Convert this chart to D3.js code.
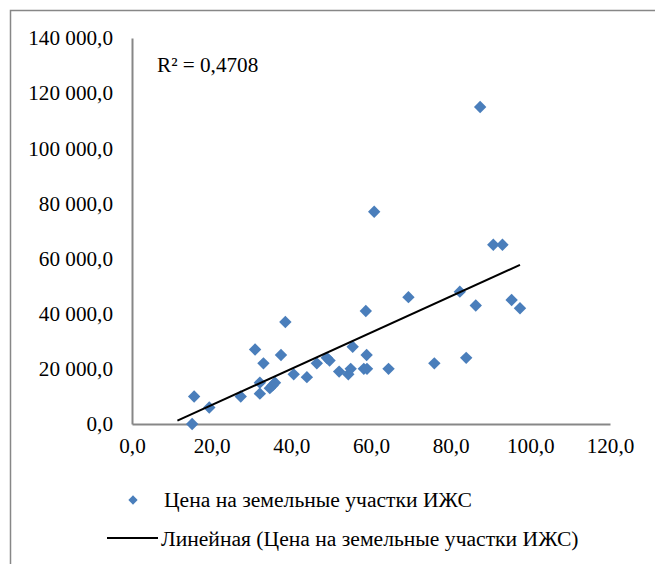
<!DOCTYPE html>
<html>
<head>
<meta charset="utf-8">
<script src="https://cdn.jsdelivr.net/npm/d3@7"></script>
<style>
  body { margin: 0; background: #fff; }
  svg { display: block; }
  svg text { font-family: "Liberation Serif", "Times New Roman", "DejaVu Serif", serif; }
</style>
</head>
<body>
<div id="chart"></div>
<script>
// площадь / цена участков ИЖС
const area = [15.1, 15.6, 19.4, 27.3, 30.9, 32.1, 32.1, 33.0, 34.6, 35.3, 35.9, 37.4, 38.5,
  40.6, 43.9, 46.4, 48.9, 49.6, 52.0, 54.3, 54.9, 55.4, 58.7, 58.9, 58.2, 59.0, 60.8, 64.4,
  69.4, 75.9, 82.3, 83.9, 86.3, 87.4, 90.7, 93.0, 95.3, 97.4];
const price = [0, 10000, 6000, 10000, 27000, 15000, 11000, 22000, 13000, 14000, 15000, 25000, 37000,
  18000, 17000, 22000, 24000, 23000, 19000, 18000, 20000, 28000, 41000, 25000, 20000, 20000, 77000, 20000,
  46000, 22000, 48000, 24000, 43000, 115000, 65000, 65000, 45000, 42000];

const xTicks = [0, 20, 40, 60, 80, 100, 120];
const yTicks = [0, 20000, 40000, 60000, 80000, 100000, 120000, 140000];
const trendStart = 11.4;
const r2Label = "R² = 0,4708";
const seriesName = "Цена на земельные участки ИЖС";
const trendName = "Линейная (Цена на земельные участки ИЖС)";

const w = 655, h = 564;
const fontSize = 21.2;
const legendFontSize = 21.6;
const axisColor = "#878787";
const blue = "#4a7ebb";

const locale = d3.formatLocale({decimal: ",", thousands: " ", grouping: [3], currency: ["", ""]});
const fmt = locale.format(",.1f");

const points = area.map(function(d, i) { return {x: d, y: price[i]}; });

let svg = d3.select("#chart").append("svg")
  .attr("width", w)
  .attr("height", h);

// chart frame (cut off on the right and bottom)
svg.append("rect")
  .attr("x", 10.5)
  .attr("y", 10.5)
  .attr("width", 700)
  .attr("height", 700)
  .attr("fill", "none")
  .attr("stroke", axisColor)
  .attr("stroke-width", 1.5);

let xScale = d3.scaleLinear().domain([0, 120]).range([132, 610]);
let yScale = d3.scaleLinear().domain([0, 140000]).range([424, 38]);

// axes
let xAxis = svg.append("g")
  .attr("transform", "translate(0," + yScale(0) + ")")
  .call(d3.axisBottom(xScale).tickValues(xTicks).tickSize(0).tickPadding(14)
    .tickFormat(function(d) { return fmt(d); }));

let yAxis = svg.append("g")
  .attr("transform", "translate(" + xScale(0) + ",0)")
  .call(d3.axisLeft(yScale).tickValues(yTicks).tickSize(0).tickPadding(19)
    .tickFormat(function(d) { return fmt(d); }));

[xAxis, yAxis].forEach(function(g) {
  g.attr("font-family", null).attr("font-size", null);
  g.select(".domain")
    .attr("stroke", axisColor)
    .attr("stroke-width", 2);
  g.selectAll("text")
    .attr("fill", "#000")
    .style("font-size", fontSize + "px");
});
xAxis.selectAll("text").attr("dy", "0.71em");

// linear trend (least squares)
const mx = d3.mean(area), my = d3.mean(price);
let sxy = 0, sxx = 0;
for (let i = 0; i < area.length; i++) {
  sxy += (area[i] - mx) * (price[i] - my);
  sxx += (area[i] - mx) * (area[i] - mx);
}
const slope = sxy / sxx;
const intercept = my - slope * mx;
const trendX = [trendStart, d3.max(area)];

// Draw points
const diamond = d3.symbol().type(d3.symbolDiamond2).size(98);
svg.append("g")
  .selectAll("path")
  .data(points)
  .enter()
  .append("path")
  .attr("d", diamond)
  .attr("transform", function(d) {
    return "translate(" + xScale(d.x) + "," + yScale(d.y) + ")";
  })
  .attr("fill", blue);

svg.append("line")
  .attr("x1", xScale(trendX[0]))
  .attr("y1", yScale(intercept + slope * trendX[0]))
  .attr("x2", xScale(trendX[1]))
  .attr("y2", yScale(intercept + slope * trendX[1]))
  .attr("stroke", "#000")
  .attr("stroke-width", 2);

// R² label
svg.append("text")
  .text(r2Label)
  .attr("x", 157)
  .attr("y", 72)
  .style("font-size", fontSize + "px")
  .attr("fill", "#000");

// Legend
let legend = svg.append("g");
legend.append("path")
  .attr("d", d3.symbol().type(d3.symbolDiamond2).size(55))
  .attr("transform", "translate(133,500)")
  .attr("fill", blue);
legend.append("text")
  .text(seriesName)
  .attr("x", 164)
  .attr("y", 507)
  .style("font-size", legendFontSize + "px")
  .attr("fill", "#000");
legend.append("line")
  .attr("x1", 107)
  .attr("x2", 158)
  .attr("y1", 538)
  .attr("y2", 538)
  .attr("stroke", "#000")
  .attr("stroke-width", 2);
legend.append("text")
  .text(trendName)
  .attr("x", 161)
  .attr("y", 546)
  .style("font-size", legendFontSize + "px")
  .attr("fill", "#000");
</script>
</body>
</html>
